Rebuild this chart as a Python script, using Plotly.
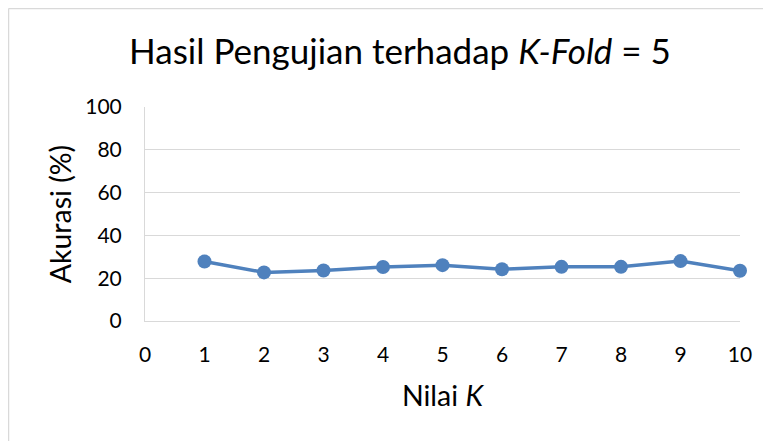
import plotly.graph_objects as go

k_values = [1, 2, 3, 4, 5, 6, 7, 8, 9, 10]
accuracy = [27.8, 22.7, 23.6, 25.2, 26.1, 24.2, 25.3, 25.3, 28.0, 23.5]
x_ticks = [0, 1, 2, 3, 4, 5, 6, 7, 8, 9, 10]
y_ticks = [0, 20, 40, 60, 80, 100]

OFF = 8  # page body margin offset
W, H = 771, 441
L, T = 145 - OFF, 107 - OFF
pw, ph = 595, 214
R = W - L - pw
B = H - T - ph

def px_to_paper_x(px):
    return (px - L) / pw

def px_to_paper_y(py):
    return (T + ph - py) / ph

FONT = "Lato"
BLUE = "#4F81BD"
GRID = "#D9D9D9"

fig = go.Figure()
fig.add_trace(go.Scatter(
    x=k_values, y=accuracy, mode="lines+markers",
    line=dict(color=BLUE, width=3.5),
    marker=dict(color=BLUE, size=14),
    showlegend=False, cliponaxis=False,
))

fig.update_layout(
    width=W, height=H,
    margin=dict(l=L, r=R, t=T, b=B),
    paper_bgcolor="white", plot_bgcolor="white",
    font=dict(family=FONT, color="#000000"),
    title=dict(
        text="Hasil Pengujian terhadap <i>K-Fold</i> = 5",
        x=(400 - OFF) / W, xanchor="center", xref="container",
        y=1 - (52 - OFF) / H, yanchor="middle", yref="container",
        font=dict(size=35, family=FONT, color="#000000"),
    ),
    xaxis=dict(
        range=[0, 10], tickvals=x_ticks, ticktext=[str(v) for v in x_ticks],
        showgrid=False, zeroline=False,
        showline=True, linecolor=GRID, linewidth=1,
        ticks="", tickfont=dict(size=21, family=FONT, color="#000000"),
        ticklabelstandoff=15,
        title=dict(text="Nilai <i>K</i>", font=dict(size=28.5, family=FONT, color="#000000"), standoff=20),
    ),
    yaxis=dict(
        range=[0, 100], tickvals=y_ticks, ticktext=[str(v) for v in y_ticks],
        showgrid=True, gridcolor=GRID, gridwidth=1,
        zeroline=False,
        showline=True, linecolor=GRID, linewidth=1,
        ticks="", tickfont=dict(size=21, family=FONT, color="#000000"),
        ticklabelstandoff=18,
        title=dict(text="Akurasi (%)", font=dict(size=28.5, family=FONT, color="#000000"), standoff=5),
    ),
    shapes=[
        dict(type="line", xref="paper", yref="paper",
             x0=px_to_paper_x(0.5), x1=px_to_paper_x(W + 5),
             y0=px_to_paper_y(0.5), y1=px_to_paper_y(0.5),
             line=dict(color=GRID, width=1.5), layer="below"),
        dict(type="line", xref="paper", yref="paper",
             x0=px_to_paper_x(0.5), x1=px_to_paper_x(0.5),
             y0=px_to_paper_y(0.5), y1=px_to_paper_y(H + 5),
             line=dict(color=GRID, width=1.5), layer="below"),
    ],
)

fig.write_html("out.html")
